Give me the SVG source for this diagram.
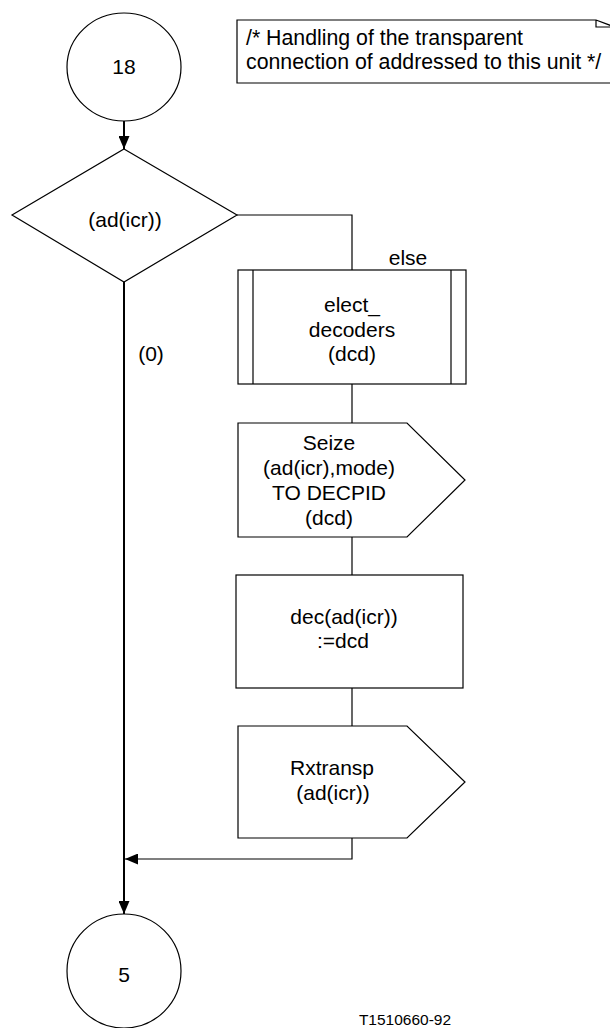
<svg xmlns="http://www.w3.org/2000/svg" width="610" height="1028" viewBox="0 0 610 1028">
<style>
.s{fill:#fff;stroke:#000;stroke-width:1.2}
.t{font-family:"Liberation Sans",Arial,sans-serif;font-size:21px;fill:#000;text-anchor:middle}
.c{fill:none;stroke:#000;stroke-width:1.2}
.m{fill:none;stroke:#000;stroke-width:2}
</style>
<defs>
<marker id="ah" markerWidth="13" markerHeight="11" refX="13" refY="5.5" orient="auto" markerUnits="userSpaceOnUse">
<path d="M0,0 L13,5.5 L0,11 Z" fill="#000"/>
</marker>
</defs>
<rect width="610" height="1028" fill="#fff"/>
<g id="connectors">
<line class="m" x1="124" y1="121" x2="124" y2="149" marker-end="url(#ah)"/>
<line class="m" x1="124" y1="282" x2="124" y2="914" marker-end="url(#ah)"/>
<polyline class="c" points="237,215 352,215 352,270"/>
<line class="c" x1="352" y1="384" x2="352" y2="423"/>
<line class="c" x1="352" y1="537" x2="352" y2="575"/>
<line class="c" x1="352" y1="688" x2="352" y2="726"/>
<polyline class="c" points="352,838 352,859 125,859" marker-end="url(#ah)"/>
<text class="t" x="408" y="265">else</text>
<text class="t" x="151" y="361">(0)</text>
</g>
<g id="start18">
<ellipse class="s" cx="124" cy="67" rx="57" ry="54"/>
<text class="t" x="124" y="74">18</text>
</g>
<g id="comment">
<path class="c" d="M612,83 L237,83 L237,20 L596,20"/>
<path class="c" d="M596,20 L596,27 L612,27 M596,20 L612,26"/>
<text font-family="Liberation Sans,Arial,sans-serif" font-size="21.3" x="246" y="45">/* Handling of the transparent</text>
<text font-family="Liberation Sans,Arial,sans-serif" font-size="21.3" x="246" y="69">connection of addressed to this unit */</text>
</g>
<g id="decision">
<polygon class="s" points="124,149 237,215 124,282 12,215"/>
<text class="t" x="125" y="227">(ad(icr))</text>
</g>
<g id="procedure">
<rect class="s" x="238" y="270" width="228" height="114"/>
<line class="c" x1="253" y1="270" x2="253" y2="384"/>
<line class="c" x1="451" y1="270" x2="451" y2="384"/>
<text class="t" x="352" y="312">elect_</text>
<text class="t" x="352" y="337">decoders</text>
<text class="t" x="352" y="361">(dcd)</text>
</g>
<g id="seize">
<polygon class="s" points="238,423 407,423 465,480 407,537 238,537"/>
<text class="t" x="329" y="450">Seize</text>
<text class="t" x="329" y="475">(ad(icr),mode)</text>
<text class="t" x="329" y="500">TO DECPID</text>
<text class="t" x="329" y="525">(dcd)</text>
</g>
<g id="task">
<rect class="s" x="236" y="575" width="227" height="113"/>
<text class="t" x="344" y="624">dec(ad(icr))</text>
<text class="t" x="343" y="648">:=dcd</text>
</g>
<g id="rxtransp">
<polygon class="s" points="238,726 407,726 465,782 407,838 238,838"/>
<text class="t" x="332" y="775">Rxtransp</text>
<text class="t" x="333" y="800">(ad(icr))</text>
</g>
<g id="end5">
<ellipse class="s" cx="124" cy="971" rx="57" ry="57"/>
<text class="t" x="124" y="982">5</text>
</g>
<text font-family="Liberation Sans,Arial,sans-serif" font-size="15.5" x="405" y="1025" text-anchor="middle">T1510660-92</text>
</svg>
